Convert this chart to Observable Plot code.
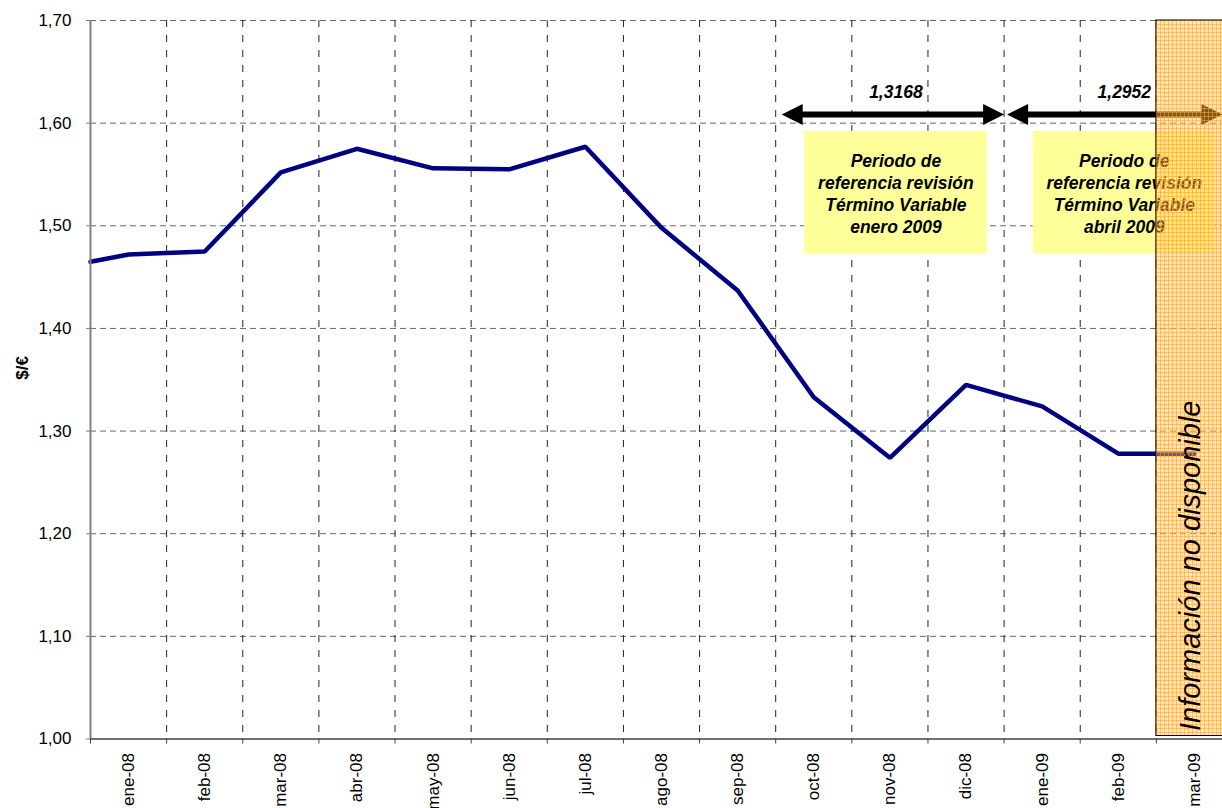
<!DOCTYPE html>
<html>
<head>
<meta charset="utf-8">
<script src="https://cdn.jsdelivr.net/npm/d3@7"></script>
<script src="https://cdn.jsdelivr.net/npm/@observablehq/plot@0.6"></script>
<style>
  html, body { margin: 0; padding: 0; background: #fff; overflow: hidden; }
  #chart { width: 1222px; height: 808px; overflow: hidden; }
  #chart svg { max-width: none !important; }
</style>
</head>
<body>
<div id="chart"></div>
<script>
// ---- Data ----
const months = ["ene-08","feb-08","mar-08","abr-08","may-08","jun-08","jul-08","ago-08","sep-08","oct-08","nov-08","dic-08","ene-09","feb-09","mar-09"];
const rates = [1.472,1.475,1.552,1.575,1.556,1.555,1.577,1.498,1.437,1.333,1.274,1.345,1.324,1.278,1.278];
const startRate = 1.465; // value where the line meets the left axis
const yTicks = [1.00,1.10,1.20,1.30,1.40,1.50,1.60,1.70];
const periodFrom = ["oct-08","ene-09"];
const periodTo = ["dic-08","mar-09"];
const periodAverages = ["1,3168","1,2952"];
const periodNotes = [
  "Periodo de\nreferencia revisión\nTérmino Variable\nenero 2009",
  "Periodo de\nreferencia revisión\nTérmino Variable\nabril 2009"
];
const unavailableMonth = "mar-09";
const unavailableText = "Información no disponible";
const yLabel = "$/€";

// ---- Derived tables ----
const idx = m => months.indexOf(m);
const lineData = [{x: 0, y: startRate}, ...rates.map((v, i) => ({x: i + 0.5, y: v}))];
const boundaries = d3.range(0, months.length + 1);
const periods = periodFrom.map((f, i) => ({x1: idx(f), x2: idx(periodTo[i]) + 1, avg: periodAverages[i], note: periodNotes[i]}));

const arrowY = 1.6084;
const boxY1 = 1.473, boxY2 = 1.592, noteY = 1.532;
const arrowInsets = [[6, 0], [3, 10]];

const headRight = {draw(ctx) { ctx.moveTo(0, 0); ctx.lineTo(-21, -10.5); ctx.lineTo(-21, 10.5); ctx.closePath(); }};
const headLeft  = {draw(ctx) { ctx.moveTo(0, 0); ctx.lineTo(21, -10.5); ctx.lineTo(21, 10.5); ctx.closePath(); }};

const fmt = d => d.toFixed(2).replace(".", ",");

const arrowMarks = periods.flatMap((p, i) => {
  const [il, ir] = arrowInsets[i];
  return [
    Plot.ruleY([arrowY], {x1: p.x1, x2: p.x2, insetLeft: il + 15, insetRight: ir + 15, stroke: "black", strokeWidth: 6}),
    Plot.dot([p], {x: "x1", y: () => arrowY, symbol: headLeft, r: 5, fill: "black", stroke: null, dx: il}),
    Plot.dot([p], {x: "x2", y: () => arrowY, symbol: headRight, r: 5, fill: "black", stroke: null, dx: -ir}),
    Plot.text([p], {x: d => (d.x1 + d.x2) / 2, y: () => arrowY, text: "avg", dx: 6, dy: -22,
      fontSize: 17.5, fontWeight: "bold", fontStyle: "italic", fill: "black"})
  ];
});

const chart = Plot.plot({
  width: 1232,
  height: 808,
  marginLeft: 90,
  marginRight: 0,
  marginTop: 20,
  marginBottom: 69.5,
  style: {fontFamily: "'Liberation Sans', Arial, sans-serif", background: "white", color: "black", maxWidth: "none"},
  x: {type: "linear", domain: [0, months.length], axis: null},
  y: {domain: [1.0, 1.7], axis: null},
  marks: [
    // grid
    Plot.ruleY(yTicks.filter(v => v > 1.0), {stroke: "#666", strokeWidth: 1, strokeDasharray: "6,4"}),
    Plot.ruleX(boundaries.filter(b => b > 0 && b < months.length), {stroke: "#222", strokeWidth: 1, strokeDasharray: "7,8"}),
    // series
    Plot.line(lineData, {x: "x", y: "y", stroke: "#000080", strokeWidth: 4.5, strokeLinejoin: "miter"}),
    // reference period boxes
    Plot.rect(periods, {x1: "x1", x2: "x2", y1: () => boxY1, y2: () => boxY2, insetLeft: 29, insetRight: 17, fill: "#FFFF99"}),
    Plot.text(periods, {x: d => (d.x1 + d.x2) / 2, y: () => noteY, text: "note", dx: 6, fontSize: 17.5, lineHeight: 1.27,
      fontWeight: "bold", fontStyle: "italic", fill: "black"}),
    ...arrowMarks,
    // unavailable band
    Plot.rect([unavailableMonth], {x1: d => idx(d), x2: d => idx(d) + 1, y1: () => 1.0, y2: () => 1.7, insetBottom: 3,
      fill: "url(#orangeGrid)", stroke: "black", strokeWidth: 1}),
    Plot.text([unavailableText], {x: () => idx(unavailableMonth) + 0.5, y: () => 1.0, text: d => d, rotate: -90,
      textAnchor: "start", lineAnchor: "middle", dx: -4, dy: -8, fontSize: 29, fontStyle: "italic", fill: "black"}),
    // axes
    Plot.ruleX([0], {stroke: "#808080", strokeWidth: 2}),
    Plot.ruleY([1.0], {stroke: "#404040", strokeWidth: 1.5}),
    Plot.axisY(yTicks, {tickSize: 4, tickPadding: 15, fontSize: 17, tickFormat: fmt, label: null, stroke: "#808080", fill: "black"}),
    Plot.axisX(boundaries, {tickSize: 5, tickFormat: () => "", label: null, stroke: "#404040"}),
    Plot.text(months, {x: (d, i) => i + 0.5, frameAnchor: "bottom", text: d => d, rotate: -90, textAnchor: "end",
      lineAnchor: "middle", dy: 14, fontSize: 17, fill: "black"}),
    Plot.text([yLabel], {frameAnchor: "left", text: d => d, rotate: -90, dx: -68, fontSize: 17, fontWeight: "bold", fill: "black"})
  ]
});

// pattern for the "not available" band
const ns = "http://www.w3.org/2000/svg";
const defs = document.createElementNS(ns, "defs");
defs.innerHTML = `<pattern id="orangeGrid" width="4" height="4" patternUnits="userSpaceOnUse">
  <rect width="4" height="4" fill="#FFC870" fill-opacity="0.45"></rect>
  <path d="M0 0.5H4M0.5 0V4" stroke="#FFA020" stroke-opacity="0.55" stroke-width="1"></path>
</pattern>`;
chart.insertBefore(defs, chart.firstChild);
document.getElementById("chart").appendChild(chart);
</script>
</body>
</html>
